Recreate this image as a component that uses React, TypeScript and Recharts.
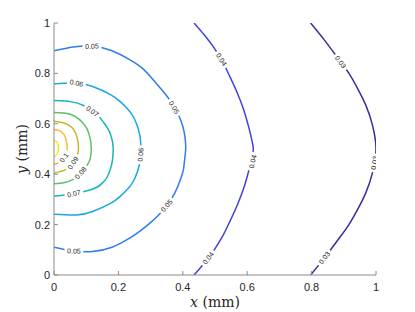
import React from "react";
import { ComposedChart, Line, Scatter, XAxis, YAxis } from "recharts";

const X_TICKS = [0, 0.2, 0.4, 0.6, 0.8, 1];
const Y_TICKS = [0, 0.2, 0.4, 0.6, 0.8, 1];

const C003 = [
  { x: 0.797, y: 1.0 }, { x: 0.835, y: 0.94 }, { x: 0.878, y: 0.867 }, { x: 0.916, y: 0.8 },
  { x: 0.945, y: 0.735 }, { x: 0.968, y: 0.675 }, { x: 0.99, y: 0.59 }, { x: 1.0, y: 0.5 },
  { x: 0.99, y: 0.41 }, { x: 0.968, y: 0.325 }, { x: 0.945, y: 0.265 }, { x: 0.916, y: 0.2 },
  { x: 0.878, y: 0.133 }, { x: 0.835, y: 0.06 }, { x: 0.797, y: 0.0 },
];
const C004 = [
  { x: 0.435, y: 1.0 }, { x: 0.465, y: 0.955 }, { x: 0.495, y: 0.905 }, { x: 0.522, y: 0.85 },
  { x: 0.547, y: 0.785 }, { x: 0.57, y: 0.72 }, { x: 0.588, y: 0.66 }, { x: 0.603, y: 0.595 },
  { x: 0.614, y: 0.537 }, { x: 0.619, y: 0.5 }, { x: 0.614, y: 0.463 }, { x: 0.603, y: 0.405 },
  { x: 0.588, y: 0.34 }, { x: 0.57, y: 0.28 }, { x: 0.547, y: 0.215 }, { x: 0.522, y: 0.15 },
  { x: 0.495, y: 0.095 }, { x: 0.465, y: 0.045 }, { x: 0.435, y: 0.0 },
];
const C005 = [
  { x: 0, y: 0.89 }, { x: 0.06, y: 0.905 }, { x: 0.12, y: 0.908 }, { x: 0.18, y: 0.89 },
  { x: 0.236, y: 0.854 }, { x: 0.275, y: 0.82 }, { x: 0.308, y: 0.775 }, { x: 0.338, y: 0.73 },
  { x: 0.362, y: 0.69 }, { x: 0.385, y: 0.64 }, { x: 0.4, y: 0.59 }, { x: 0.407, y: 0.545 },
  { x: 0.409, y: 0.5 }, { x: 0.405, y: 0.45 }, { x: 0.402, y: 0.418 }, { x: 0.393, y: 0.38 },
  { x: 0.375, y: 0.325 }, { x: 0.35, y: 0.275 }, { x: 0.325, y: 0.238 }, { x: 0.298, y: 0.206 },
  { x: 0.268, y: 0.175 }, { x: 0.236, y: 0.147 }, { x: 0.18, y: 0.11 }, { x: 0.12, y: 0.093 },
  { x: 0.06, y: 0.095 }, { x: 0, y: 0.11 },
];
const C006 = [
  { x: 0, y: 0.759 }, { x: 0.07, y: 0.762 }, { x: 0.12, y: 0.748 }, { x: 0.174, y: 0.717 },
  { x: 0.205, y: 0.689 }, { x: 0.228, y: 0.66 }, { x: 0.246, y: 0.629 }, { x: 0.259, y: 0.59 },
  { x: 0.267, y: 0.55 }, { x: 0.27, y: 0.5 }, { x: 0.267, y: 0.45 }, { x: 0.259, y: 0.41 },
  { x: 0.246, y: 0.371 }, { x: 0.228, y: 0.34 }, { x: 0.205, y: 0.311 }, { x: 0.174, y: 0.283 },
  { x: 0.12, y: 0.252 }, { x: 0.07, y: 0.238 }, { x: 0, y: 0.241 },
];
const C007 = [
  { x: 0, y: 0.692 }, { x: 0.05, y: 0.688 }, { x: 0.1, y: 0.668 }, { x: 0.135, y: 0.635 },
  { x: 0.155, y: 0.604 }, { x: 0.176, y: 0.557 }, { x: 0.184, y: 0.5 }, { x: 0.182, y: 0.46 },
  { x: 0.176, y: 0.425 }, { x: 0.155, y: 0.371 }, { x: 0.114, y: 0.338 }, { x: 0.062, y: 0.323 },
  { x: 0, y: 0.312 },
];
const C008 = [
  { x: 0, y: 0.645 }, { x: 0.041, y: 0.641 }, { x: 0.07, y: 0.625 }, { x: 0.092, y: 0.6 },
  { x: 0.108, y: 0.563 }, { x: 0.116, y: 0.5 }, { x: 0.112, y: 0.46 }, { x: 0.1, y: 0.43 },
  { x: 0.083, y: 0.405 }, { x: 0.06, y: 0.38 }, { x: 0.03, y: 0.366 }, { x: 0, y: 0.362 },
];
const C009 = [
  { x: 0, y: 0.61 }, { x: 0.031, y: 0.603 }, { x: 0.057, y: 0.583 }, { x: 0.072, y: 0.544 },
  { x: 0.076, y: 0.505 }, { x: 0.072, y: 0.47 }, { x: 0.059, y: 0.445 }, { x: 0.035, y: 0.417 },
  { x: 0, y: 0.404 },
];
const C010 = [
  { x: 0, y: 0.577 }, { x: 0.021, y: 0.57 }, { x: 0.036, y: 0.544 }, { x: 0.041, y: 0.505 },
  { x: 0.037, y: 0.475 }, { x: 0.024, y: 0.453 }, { x: 0, y: 0.438 },
];
const C011 = [
  { x: 0, y: 0.535 }, { x: 0.01, y: 0.526 }, { x: 0.014, y: 0.505 }, { x: 0.01, y: 0.482 },
  { x: 0, y: 0.468 },
];

const LEVELS = ["0.03", "0.04", "0.05", "0.06", "0.07", "0.08", "0.09", "0.1", "0.11"];
const COLORS = ["#3a2c9e", "#4343dc", "#2f7bf0", "#1aa6e0", "#18b6b4", "#5dc166", "#c6b72e", "#fbbb36", "#f5ec1c"];
const CURVES = ["monotoneY", "monotoneY", "natural", "natural", "monotoneY", "monotoneY", "monotoneY", "monotoneY", "monotoneY"];
const CONTOURS = [C003, C004, C005, C006, C007, C008, C009, C010, C011];

const LABELS = [
  { x: 0.89, y: 0.845, level: "0.03" },
  { x: 0.995, y: 0.445, level: "0.03" },
  { x: 0.84, y: 0.068, level: "0.03" },
  { x: 0.52, y: 0.855, level: "0.04" },
  { x: 0.617, y: 0.45, level: "0.04" },
  { x: 0.479, y: 0.067, level: "0.04" },
  { x: 0.118, y: 0.908, level: "0.05" },
  { x: 0.373, y: 0.665, level: "0.05" },
  { x: 0.35, y: 0.275, level: "0.05" },
  { x: 0.062, y: 0.095, level: "0.05" },
  { x: 0.07, y: 0.762, level: "0.06" },
  { x: 0.269, y: 0.477, level: "0.06" },
  { x: 0.119, y: 0.65, level: "0.07" },
  { x: 0.062, y: 0.323, level: "0.07" },
  { x: 0.083, y: 0.405, level: "0.08" },
  { x: 0.059, y: 0.445, level: "0.09" },
  { x: 0.031, y: 0.466, level: "0.1" },
];

const CHART_W = 407;
const CHART_H = 304;
const MARGIN = { top: 15, right: 39, bottom: 7, left: 0 };
const Y_AXIS_W = 46;
const X_AXIS_H = 30;
const PLOT_W = CHART_W - MARGIN.left - MARGIN.right - Y_AXIS_W;
const PLOT_H = CHART_H - MARGIN.top - MARGIN.bottom - X_AXIS_H;

const AXIS_COLOR = "#8a8a8a";
const TEXT_COLOR = "#262626";
const SANS = "'Liberation Sans', Arial, Helvetica, sans-serif";
const SERIF = "'DejaVu Serif', serif";

const fmt = (v: number) => String(v);

function labelAngle(level: string, lx: number, ly: number) {
  const pts = CONTOURS[LEVELS.indexOf(level)];
  let best = 0;
  let bd = Infinity;
  for (let i = 0; i < pts.length - 1; i++) {
    const mx = (pts[i].x + pts[i + 1].x) / 2;
    const my = (pts[i].y + pts[i + 1].y) / 2;
    const d = ((mx - lx) * PLOT_W) ** 2 + ((my - ly) * PLOT_H) ** 2;
    if (d < bd) {
      bd = d;
      best = i;
    }
  }
  const dx = (pts[best + 1].x - pts[best].x) * PLOT_W;
  const dy = -(pts[best + 1].y - pts[best].y) * PLOT_H;
  let a = (Math.atan2(dy, dx) * 180) / Math.PI;
  if (a > 90) a -= 180;
  if (a <= -90) a += 180;
  return a;
}

const ContourLabel = (props: any) => {
  const { cx, cy, payload } = props;
  if (cx == null || cy == null || !payload) return null;
  const ang = labelAngle(payload.level, payload.x, payload.y);
  const text = payload.level;
  const w = text.length * 3.7 + 4;
  return (
    <g transform={`translate(${cx},${cy}) rotate(${ang})`}>
      <rect x={-w / 2} y={-3} width={w} height={6} fill="#ffffff" />
      <text x={0} y={0} dy="0.35em" textAnchor="middle" fontSize={7} fontFamily={SANS} fill="#222">
        {text}
      </text>
    </g>
  );
};

const XLabel = (props: any) => {
  const vb = props.viewBox || {};
  const cx = vb.x + vb.width / 2;
  return (
    <text x={cx} y={vb.y + 32} textAnchor="middle" fontFamily={SERIF} fontSize={14} fill={TEXT_COLOR}>
      <tspan fontStyle="italic">x</tspan> (mm)
    </text>
  );
};

const YLabel = (props: any) => {
  const vb = props.viewBox || {};
  const cy = vb.y + vb.height / 2;
  const x = 19;
  return (
    <text x={x} y={cy} transform={`rotate(-90, ${x}, ${cy})`} textAnchor="middle" fontFamily={SERIF} fontSize={14} fill={TEXT_COLOR}>
      <tspan fontStyle="italic">y</tspan> (mm)
    </text>
  );
};

export default function App() {
  return (
    <div style={{ width: CHART_W, height: CHART_H, background: "#fff" }}>
      <ComposedChart width={CHART_W} height={CHART_H} margin={MARGIN}>
        <XAxis
          type="number"
          dataKey="x"
          domain={[0, 1]}
          ticks={X_TICKS}
          tickFormatter={fmt}
          height={X_AXIS_H}
          tickSize={-4}
          tickMargin={12}
          stroke={AXIS_COLOR}
          tick={{ fill: TEXT_COLOR, fontSize: 11, fontFamily: SANS }}
          allowDataOverflow
          label={<XLabel />}
        />
        <XAxis
          xAxisId="top"
          orientation="top"
          type="number"
          dataKey="x"
          domain={[0, 1]}
          ticks={X_TICKS}
          height={0}
          tickSize={-4}
          tick={false}
          stroke={AXIS_COLOR}
          allowDataOverflow
        />
        <YAxis
          type="number"
          dataKey="y"
          domain={[0, 1]}
          ticks={Y_TICKS}
          tickFormatter={fmt}
          width={Y_AXIS_W}
          tickSize={-4}
          tickMargin={8}
          stroke={AXIS_COLOR}
          tick={{ fill: TEXT_COLOR, fontSize: 11, fontFamily: SANS }}
          allowDataOverflow
          label={<YLabel />}
        />
        <YAxis
          yAxisId="right"
          orientation="right"
          type="number"
          dataKey="y"
          domain={[0, 1]}
          ticks={Y_TICKS}
          width={0}
          tickSize={-4}
          tick={false}
          stroke={AXIS_COLOR}
          allowDataOverflow
        />
        {CONTOURS.map((d, i) => (
          <Line
            key={LEVELS[i]}
            data={d}
            dataKey="y"
            type={CURVES[i] as any}
            stroke={COLORS[i]}
            strokeWidth={1.5}
            dot={false}
            activeDot={false}
            isAnimationActive={false}
          />
        ))}
        <Scatter data={LABELS} dataKey="y" shape={ContourLabel} isAnimationActive={false} />
      </ComposedChart>
    </div>
  );
}
